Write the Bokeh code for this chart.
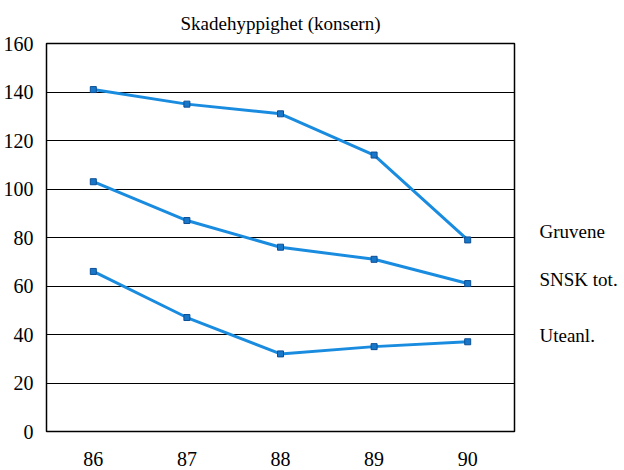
from bokeh.plotting import figure
from bokeh.models import FixedTicker, Range1d, LinearAxis
from bokeh.embed import file_html
from bokeh.resources import INLINE

years = ["86", "87", "88", "89", "90"]
gruvene = [141, 135, 131, 114, 79]
snsk_tot = [103, 87, 76, 71, 61]
uteanl = [66, 47, 32, 35, 37]
series_names = ["Gruvene", "SNSK tot.", "Uteanl."]
label_y = [82.5, 62.8, 39.4]
y_ticks = [0, 20, 40, 60, 80, 100, 120, 140, 160]

FONT = "Liberation Serif"
LINE = "#1a8ce0"

p = figure(x_range=years, y_range=Range1d(0, 160), width=620, height=468,
           output_backend="svg", toolbar_location=None,
           title="Skadehyppighet (konsern)",
           min_border_left=45, min_border_right=103, min_border_top=43,
           min_border_bottom=35)
p.title.align = "center"
p.title.text_font = FONT
p.title.text_font_size = "19px"
p.title.text_font_style = "normal"
p.title.text_color = "black"
p.title.standoff = 20

p.outline_line_color = "black"
p.outline_line_width = 1.5
p.background_fill_color = "white"
p.border_fill_color = "white"

p.xgrid.grid_line_color = None
p.ygrid.grid_line_color = "black"
p.ygrid.grid_line_width = 1
p.yaxis.ticker = FixedTicker(ticks=y_ticks)

right_axis = LinearAxis(ticker=FixedTicker(ticks=label_y),
                        major_label_overrides={v: n for v, n in zip(label_y, series_names)})
p.add_layout(right_axis, "right")

for ax in (p.xaxis[0], p.yaxis[0], right_axis):
    ax.axis_line_color = None
    ax.major_tick_line_color = None
    ax.minor_tick_line_color = None
    ax.major_label_text_font = FONT
    ax.major_label_text_font_size = "20px"
    ax.major_label_text_color = "black"
p.yaxis[0].major_label_standoff = 7
p.xaxis[0].major_label_standoff = 14
right_axis.major_label_standoff = 19
right_axis.major_label_text_font_size = "19px"

for vals in (gruvene, snsk_tot, uteanl):
    p.line(years, vals, line_color=LINE, line_width=3)
    p.scatter(years, vals, marker="square", size=6, fill_color="#1877c8",
              line_color="#0d4f96", line_width=1)

open("out.html", "w").write(file_html(p, INLINE))
